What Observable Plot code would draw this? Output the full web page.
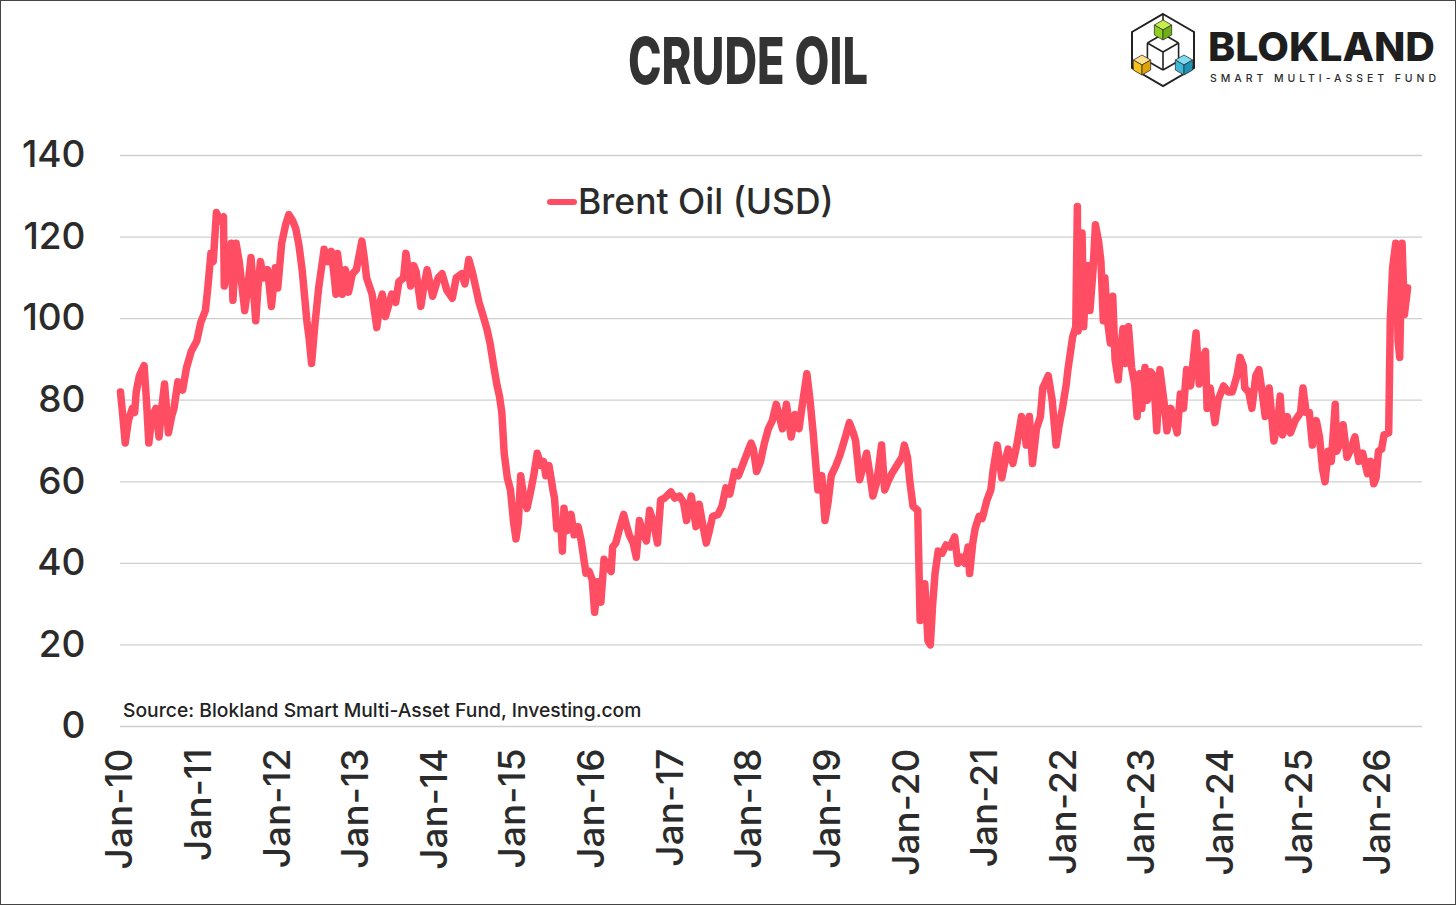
<!DOCTYPE html>
<html>
<head>
<meta charset="utf-8">
<script src="https://cdn.jsdelivr.net/npm/d3@7"></script>
<script src="https://cdn.jsdelivr.net/npm/@observablehq/plot@0.6"></script>
<style>
  html, body { margin: 0; padding: 0; background: #fff; }
  #frame { position: relative; width: 1456px; height: 905px; overflow: hidden; background: #fff; font-family: Inter, "Noto Sans", sans-serif; }
  #border { position: absolute; left: 0; top: 0; width: 1456px; height: 905px; box-sizing: border-box; border: 1px solid #444; pointer-events: none; }
  #chart { position: absolute; left: 0; top: 0; }
  #title { position: absolute; left: 0; top: 0; }
  #logo { position: absolute; left: 1125px; top: 10px; }
  #legend { position: absolute; left: 547px; top: 180px; display: flex; align-items: center; color: #2b2b2b; font-size: 35.5px; font-weight: 500; }
  #legend .sw { width: 30px; height: 6px; border-radius: 3px; background: #ff4d63; margin-right: 1px; }
  #source { position: absolute; left: 123px; top: 698px; font-size: 19.3px; font-weight: 500; color: #222; }
</style>
</head>
<body>
<div id="frame">
  <div id="chart"></div>
  <svg id="title" width="1456" height="110">
    <text x="628" y="84" textLength="240" lengthAdjust="spacingAndGlyphs" font-family="Inter" font-weight="800" font-size="65" fill="#333">CRUDE OIL</text>
  </svg>
  <svg id="logo" width="325" height="85" viewBox="0 0 325 85"></svg>
  <div id="legend"><div class="sw"></div><span>Brent Oil (USD)</span></div>
  <div id="source">Source: Blokland Smart Multi-Asset Fund, Investing.com</div>
  <div id="border"></div>
</div>
<script>
// ---- data: [decimal year, Brent price USD] ----
const brent2010_2014 = [
  [2010.00,82],[2010.03,76],[2010.06,69.5],[2010.10,75],[2010.15,78],[2010.18,77],[2010.20,82],[2010.24,86],
  [2010.30,88.5],[2010.33,80],[2010.36,69.5],[2010.40,76],[2010.45,78],[2010.49,71],[2010.53,79],[2010.56,84],
  [2010.61,72],[2010.65,76],[2010.68,78],[2010.73,84.5],[2010.79,82.5],[2010.84,88],[2010.90,92],[2010.97,94.5],
  [2011.02,99],[2011.08,102],[2011.11,107.5],[2011.15,116],[2011.18,114],[2011.22,126],[2011.27,124],[2011.31,125],
  [2011.32,108],[2011.37,112],[2011.41,118.5],[2011.43,104.5],[2011.47,118.5],[2011.51,114],[2011.58,102],[2011.62,108],
  [2011.66,115],[2011.72,99.5],[2011.75,108],[2011.78,114],[2011.82,110],[2011.87,112],[2011.92,103],[2011.97,112.5],
  [2012.00,107.5],[2012.05,118.5],[2012.10,123],[2012.14,125.5],[2012.19,124],[2012.23,122],[2012.27,118],[2012.31,112],
  [2012.37,99.5],[2012.40,95],[2012.43,89],[2012.47,98],[2012.52,107.5],[2012.59,117],[2012.64,114],[2012.68,116.5],
  [2012.72,110],[2012.74,106],[2012.76,116],[2012.82,106],[2012.86,112],[2012.90,106.5],[2012.95,111],[2013.00,112],
  [2013.07,119],[2013.10,115],[2013.13,110],[2013.20,106],[2013.26,97.8],[2013.30,104],[2013.33,106],[2013.37,100.5],
  [2013.45,106],[2013.50,104],[2013.54,109],[2013.60,110],[2013.63,116],[2013.69,108],[2013.73,113],[2013.76,111.5],
  [2013.82,103],[2013.86,108],[2013.90,112],[2013.97,105.5],[2014.04,110],[2014.09,111],[2014.15,107],[2014.22,105],
  [2014.27,110],[2014.34,111],[2014.38,108.5],[2014.43,114.5],[2014.48,111],[2014.52,107.5],[2014.56,104],[2014.60,101.5],
  [2014.66,97.5],[2014.70,94],[2014.75,88],[2014.79,83.5],[2014.82,81],[2014.85,77],[2014.88,67],[2014.92,61],[2014.96,58]
];
const brent2015_2019 = [
  [2015.00,50],[2015.03,46],[2015.06,50],[2015.09,61.5],[2015.13,56],[2015.17,53.5],[2015.22,58],[2015.26,62],
  [2015.30,67],[2015.35,64],[2015.38,65],[2015.41,61.5],[2015.45,64],[2015.50,58],[2015.52,56],[2015.55,48.5],
  [2015.60,50],[2015.62,43],[2015.64,53.5],[2015.68,48],[2015.73,52],[2015.77,47],[2015.82,49],[2015.86,45.5],
  [2015.92,37.6],[2015.96,38],[2016.00,36],[2016.03,28],[2016.07,35.5],[2016.11,30.5],[2016.15,41],[2016.20,39],
  [2016.24,38],[2016.26,44],[2016.30,45],[2016.34,48],[2016.37,50],[2016.40,52],[2016.44,49],[2016.47,47],
  [2016.52,45],[2016.56,41.5],[2016.60,50.5],[2016.65,47],[2016.69,45.5],[2016.73,53],[2016.78,50],[2016.83,45],
  [2016.87,55.5],[2016.92,56],[2017.00,57.5],[2017.05,56],[2017.11,56.5],[2017.16,55],[2017.20,50.5],[2017.26,56.5],
  [2017.32,49],[2017.36,54.5],[2017.41,49],[2017.45,45],[2017.49,48],[2017.53,51.5],[2017.60,52],[2017.65,54],
  [2017.70,58.5],[2017.75,57],[2017.81,62.5],[2017.86,61.5],[2017.90,63.5],[2017.96,66.5],[2018.02,69.5],[2018.05,68],
  [2018.09,62.5],[2018.14,65],[2018.19,69.5],[2018.24,73],[2018.29,75],[2018.34,79],[2018.38,76],[2018.42,73],
  [2018.47,79],[2018.53,71],[2018.58,76.5],[2018.63,73],[2018.68,80],[2018.73,86.5],[2018.77,80],[2018.81,72],
  [2018.87,58],[2018.92,61.5],[2018.96,50.5],[2019.00,55],[2019.04,61.5],[2019.10,64],[2019.15,66.5],[2019.22,71],
  [2019.27,74.5],[2019.32,72],[2019.35,70],[2019.40,60.5],[2019.45,64],[2019.49,67],[2019.53,62],[2019.57,56.5],
  [2019.62,60],[2019.68,69],[2019.72,58],[2019.76,60],[2019.81,62],[2019.89,64.5],[2019.94,66],[2019.97,69]
];
const brent2020_2022 = [
  [2020.01,66],[2020.04,60],[2020.08,54],[2020.14,53],[2020.17,26],[2020.20,31],[2020.23,35],[2020.27,21],
  [2020.30,20],[2020.33,30],[2020.36,37.5],[2020.40,43],[2020.45,42.5],[2020.50,44.5],[2020.55,44],[2020.61,46.5],
  [2020.65,40],[2020.70,41.5],[2020.74,40],[2020.78,44],[2020.80,37.5],[2020.84,45],[2020.87,48.5],[2020.92,51.5],
  [2020.96,51],[2021.02,55.5],[2021.07,58],[2021.10,63],[2021.15,69],[2021.21,61],[2021.25,65],[2021.29,68],
  [2021.35,64.5],[2021.40,69],[2021.46,76],[2021.50,73],[2021.52,69],[2021.56,76],[2021.60,64.5],[2021.65,73],
  [2021.70,76],[2021.73,83],[2021.80,86],[2021.85,80],[2021.90,69],[2021.94,74],[2021.98,78],[2022.03,84],
  [2022.05,87.5],[2022.11,95.5],[2022.15,98],[2022.17,127.5],[2022.18,97],[2022.21,113],[2022.23,121],[2022.25,98],
  [2022.28,110],[2022.31,113],[2022.33,102],[2022.37,112],[2022.40,123],[2022.44,119],[2022.47,114],[2022.50,99.5],
  [2022.52,110],[2022.55,100],[2022.59,94],[2022.62,105.5],[2022.65,90],[2022.69,85],[2022.72,92],[2022.75,97.5],
  [2022.78,89],[2022.82,98],[2022.86,88],[2022.90,84],[2022.93,76],[2022.96,86.5],[2022.99,78]
];
const brent2023_2026 = [
  [2023.03,88],[2023.06,80],[2023.10,87],[2023.14,86],[2023.18,72.5],[2023.22,87.5],[2023.27,80],[2023.31,72.5],
  [2023.36,78],[2023.40,75],[2023.44,72],[2023.48,81.5],[2023.52,78],[2023.56,87.5],[2023.61,83.5],[2023.68,96.5],
  [2023.72,84],[2023.76,90],[2023.80,92],[2023.82,78],[2023.86,83],[2023.92,74.5],[2023.96,80],[2024.03,83.5],
  [2024.09,82],[2024.14,82],[2024.20,86],[2024.24,90.5],[2024.28,88.5],[2024.30,83],[2024.35,82],[2024.39,78],
  [2024.44,86],[2024.48,87.5],[2024.52,82],[2024.56,76],[2024.61,83],[2024.67,70],[2024.72,75],[2024.75,81],
  [2024.78,71.5],[2024.84,76],[2024.88,72],[2024.94,75],[2025.01,77],[2025.04,83],[2025.08,77],[2025.12,77],
  [2025.16,69],[2025.21,75],[2025.25,71],[2025.29,63],[2025.32,60],[2025.36,67.5],[2025.40,65],[2025.45,79],
  [2025.47,67.5],[2025.52,70],[2025.55,74],[2025.60,66],[2025.65,68],[2025.70,71],[2025.75,65],[2025.80,67],
  [2025.86,62],[2025.90,65],[2025.94,59.5],[2025.97,61],[2026.00,67.5],[2026.04,68],[2026.07,71.5],[2026.13,72],
  [2026.15,99.5],[2026.18,112.5],[2026.22,118.5],[2026.25,94.5],[2026.27,90.5],[2026.30,118.5],[2026.33,101],[2026.37,107.5]
];
const xTicks = [2010,2011,2012,2013,2014,2015,2016,2017,2018,2019,2020,2021,2022,2023,2024,2025,2026];
const xTickLabels = ["Jan-10","Jan-11","Jan-12","Jan-13","Jan-14","Jan-15","Jan-16","Jan-17","Jan-18","Jan-19","Jan-20","Jan-21","Jan-22","Jan-23","Jan-24","Jan-25","Jan-26"];
const yTicks = [0,20,40,60,80,100,120,140];

const series = [...brent2010_2014, ...brent2015_2019, ...brent2020_2022, ...brent2023_2026]
  .map(([t, v]) => ({t, v}));

const chart = Plot.plot({
  width: 1456,
  height: 905,
  marginLeft: 120,
  marginRight: 34,
  marginTop: 155,
  marginBottom: 179,
  style: {fontFamily: "Inter, 'Noto Sans', sans-serif", color: "#2b2b2b", background: "transparent", overflow: "visible"},
  x: {type: "linear", domain: [2010, 2026.56]},
  y: {domain: [0, 140]},
  marks: [
    Plot.gridY(yTicks, {stroke: "#cfcfcf", strokeOpacity: 1, strokeWidth: 1.3}),
    Plot.axisY(yTicks, {tickSize: 0, tickPadding: 35, fontSize: 37, fontWeight: 500, fontVariant: "normal", label: null}),
    Plot.axisX(xTicks, {tickSize: 0, tickPadding: 22, tickRotate: -90, fontSize: 37, fontWeight: 500, fontVariant: "normal", label: null,
      tickFormat: d => xTickLabels[xTicks.indexOf(d)]}),
    Plot.line(series, {x: "t", y: "v", stroke: "#ff4d63", strokeWidth: 7.5, strokeLinejoin: "round", strokeLinecap: "round"})
  ]
});
document.getElementById("chart").appendChild(chart);

// ---- logo (decorative) ----
const logo = d3.select("#logo");
const hex = [[38,4],[69,22],[69,58],[38,76],[7,58],[7,22]];
logo.append("polygon").attr("points", hex.map(p => p.join(",")).join(" "))
  .attr("fill", "none").attr("stroke", "#222").attr("stroke-width", 2);
const wc = [38, 42], ws = 18;
const k = 0.866;
const wf = [
  [[wc[0], wc[1]-ws], [wc[0]+k*ws, wc[1]-ws/2]], [[wc[0]+k*ws, wc[1]-ws/2], [wc[0]+k*ws, wc[1]+ws/2]],
  [[wc[0]+k*ws, wc[1]+ws/2], [wc[0], wc[1]+ws]], [[wc[0], wc[1]+ws], [wc[0]-k*ws, wc[1]+ws/2]],
  [[wc[0]-k*ws, wc[1]+ws/2], [wc[0]-k*ws, wc[1]-ws/2]], [[wc[0]-k*ws, wc[1]-ws/2], [wc[0], wc[1]-ws]],
  [[wc[0], wc[1]], [wc[0]-k*ws, wc[1]-ws/2]], [[wc[0], wc[1]], [wc[0]+k*ws, wc[1]-ws/2]], [[wc[0], wc[1]], [wc[0], wc[1]+ws]],
  [[38,4],[38,24]], [[7,58],[22,51]], [[69,58],[54,51]]
];
wf.forEach(([a, b]) => logo.append("line").attr("x1", a[0]).attr("y1", a[1]).attr("x2", b[0]).attr("y2", b[1])
  .attr("stroke", "#222").attr("stroke-width", 1.6));
function cube(cx, cy, s, top, left, right) {
  const pts = arr => arr.map(p => p.join(",")).join(" ");
  logo.append("polygon").attr("points", pts([[cx, cy-s], [cx+k*s, cy-s/2], [cx, cy], [cx-k*s, cy-s/2]])).attr("fill", top).attr("stroke", "#333").attr("stroke-width", 0.8);
  logo.append("polygon").attr("points", pts([[cx-k*s, cy-s/2], [cx, cy], [cx, cy+s], [cx-k*s, cy+s/2]])).attr("fill", left).attr("stroke", "#333").attr("stroke-width", 0.8);
  logo.append("polygon").attr("points", pts([[cx, cy], [cx+k*s, cy-s/2], [cx+k*s, cy+s/2], [cx, cy+s]])).attr("fill", right).attr("stroke", "#333").attr("stroke-width", 0.8);
}
cube(38, 20, 10, "#c5ee4a", "#8fcf1f", "#6fae14");
cube(17, 55, 10, "#ffe08a", "#f7c21c", "#e0a20a");
cube(59, 55, 10, "#7fdcf0", "#3bb7d8", "#1d93b8");
logo.append("text").attr("x", 83).attr("y", 51).attr("textLength", 227).attr("lengthAdjust", "spacingAndGlyphs")
  .attr("font-family", "Inter").attr("font-weight", 800).attr("font-size", 40).attr("fill", "#1e1e1e").text("BLOKLAND");
logo.append("text").attr("x", 85).attr("y", 71.5).attr("textLength", 226).attr("lengthAdjust", "spacing")
  .attr("font-family", "Inter").attr("font-weight", 500).attr("font-size", 10.5).attr("fill", "#2b2b2b").text("SMART MULTI-ASSET FUND");
</script>
</body>
</html>
